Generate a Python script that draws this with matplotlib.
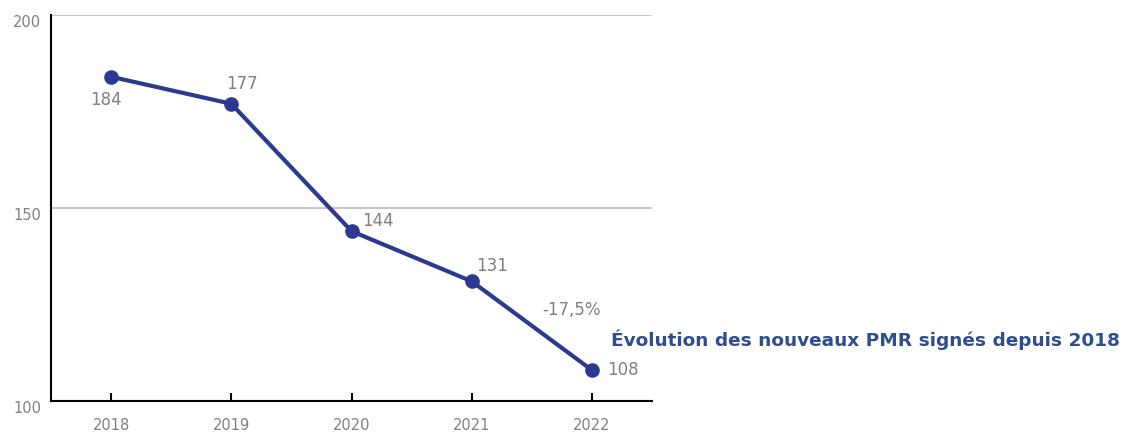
import matplotlib.pyplot as plt

years = [2018, 2019, 2020, 2021, 2022]
values = [184, 177, 144, 131, 108]
label_offsets = [(-4, -17), (8, 14), (8, 7), (3, 11), (11, 0)]
label_ha = ['center', 'center', 'left', 'left', 'left']
y_ticks = [100, 150, 200]
change_label = '-17,5%'
title = 'Évolution des nouveaux PMR signés depuis 2018'

line_color = '#2b3990'
grey = '#808080'

fig = plt.figure(figsize=(11.23, 4.36), dpi=100)
ax = fig.add_axes([51 / 1123, 35 / 436, 601 / 1123, 386 / 436])

ax.plot(years, values, color=line_color, lw=3, marker='o', ms=9.5,
        solid_capstyle='round', zorder=3, clip_on=False)

for x, y, off, ha in zip(years, values, label_offsets, label_ha):
    ax.annotate(str(y), (x, y), xytext=off, textcoords='offset points',
                ha=ha, va='center', fontsize=12, color=grey)

ax.text(2021.83, 123.6, change_label, ha='center', va='center',
        fontsize=12, color=grey)
ax.text(2022.16, 115.8, title, ha='left', va='center', fontsize=13.3,
        fontweight='bold', color='#2e4f8e', clip_on=False)

ax.set_xlim(2017.5, 2022.5)
ax.set_ylim(100, 200)
ax.set_xticks(years)
ax.set_yticks(y_ticks)
ax.yaxis.grid(True, color='#c8c8c8', lw=1.5)
ax.set_axisbelow(True)

for s in ['top', 'right']:
    ax.spines[s].set_visible(False)
ax.spines['left'].set_linewidth(1.5)
ax.spines['bottom'].set_linewidth(1.5)

narrow = ['Liberation Sans Narrow', 'DejaVu Sans Condensed', 'DejaVu Sans']
ax.tick_params(axis='x', direction='in', length=6, width=1.5, pad=12,
               labelcolor=grey, labelsize=10.5)
ax.tick_params(axis='y', length=0, pad=7, labelcolor=grey, labelsize=10.5)
for lab in ax.get_xticklabels() + ax.get_yticklabels():
    lab.set_family(narrow)
for lab in ax.get_yticklabels():
    lab.set_verticalalignment('top')

fig.savefig('out.png', dpi=100)
